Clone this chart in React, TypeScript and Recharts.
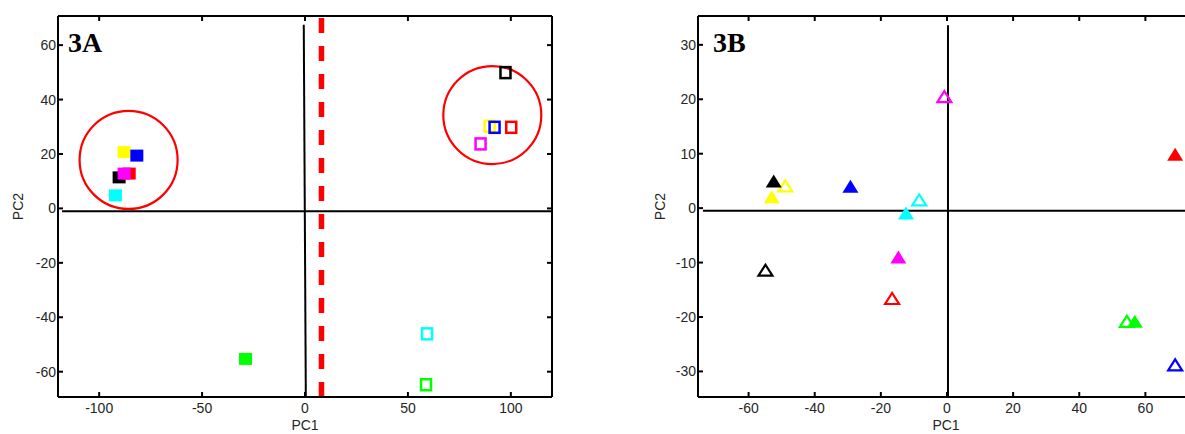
import React from 'react';
import { ScatterChart, Scatter, XAxis, YAxis, ReferenceLine } from 'recharts';

const palette: { [key: string]: string } = {
  black: '#000000',
  red: '#ff0000',
  magenta: '#ff00ff',
  yellow: '#ffff00',
  blue: '#0000ff',
  cyan: '#00ffff',
  green: '#00ff00',
};

// panel 3A – filled squares
const aFilledColors = ['black', 'red', 'magenta', 'yellow', 'blue', 'cyan', 'green'];
const aFilledX = [-90.3, -85.4, -87.9, -87.9, -81.7, -92.1, -28.9];
const aFilledY = [11.4, 12.8, 12.8, 20.7, 19.4, 4.8, -55.3];

// panel 3A – open squares
const aOpenColors = ['black', 'yellow', 'blue', 'red', 'magenta', 'cyan', 'green'];
const aOpenX = [97.4, 89.7, 92.1, 100.2, 85.3, 59.3, 58.8];
const aOpenY = [49.9, 30.2, 29.8, 29.8, 23.7, -46.1, -64.8];

// panel 3A – cluster circles and cut line
const aCircleX = [-85.7, 91.0];
const aCircleY = [17.8, 34.3];
const aCutX = 8;

// panel 3B – filled triangles
const bFilledColors = ['black', 'yellow', 'blue', 'cyan', 'magenta', 'red', 'green'];
const bFilledX = [-52.4, -53.0, -29.2, -12.4, -14.7, 69.0, 56.8];
const bFilledY = [5.0, 2.1, 4.0, -0.9, -9.0, 9.9, -20.8];

// panel 3B – open triangles
const bOpenColors = ['yellow', 'cyan', 'red', 'black', 'magenta', 'green', 'blue'];
const bOpenX = [-48.9, -8.4, -16.6, -54.9, -0.8, 54.4, 69.0];
const bOpenY = [4.1, 1.5, -16.6, -11.4, 20.5, -20.8, -28.8];

// axes
const aXTicks = [-100, -50, 0, 50, 100];
const aYTicks = [-60, -40, -20, 0, 20, 40, 60];
const bXTicks = [-60, -40, -20, 0, 20, 40, 60];
const bYTicks = [-30, -20, -10, 0, 10, 20, 30];
const aXDomain: [number, number] = [-120, 120];
const aYDomain: [number, number] = [-69.3, 70.7];
const bXDomain: [number, number] = [-75.3, 74.7];
const bYDomain: [number, number] = [-34.7, 35.3];

const toPoints = (xs: number[], ys: number[], colors?: string[]) =>
  xs.map((x, i) => ({ x, y: ys[i], color: colors ? palette[colors[i]] : '#ff0000' }));

const FilledSquare = (p: any) => (
  <rect x={p.cx - 6.5} y={p.cy - 6} width={13} height={12} fill={p.payload.color} />
);
const OpenSquare = (p: any) => (
  <rect x={p.cx - 5} y={p.cy - 5.5} width={10} height={11} fill="none" stroke={p.payload.color} strokeWidth={2.5} />
);
const FilledTriangle = (p: any) => (
  <polygon
    points={`${p.cx - 8},${p.cy + 6.5} ${p.cx + 8},${p.cy + 6.5} ${p.cx},${p.cy - 6.5}`}
    fill={p.payload.color}
  />
);
const OpenTriangle = (p: any) => (
  <polygon
    points={`${p.cx - 7},${p.cy + 5.5} ${p.cx + 7},${p.cy + 5.5} ${p.cx},${p.cy - 5.5}`}
    fill="none"
    stroke={p.payload.color}
    strokeWidth={2.2}
  />
);
const RingShape = (p: any) => (
  <circle cx={p.cx} cy={p.cy} r={49} fill="none" stroke="#ff0000" strokeWidth={2.2} />
);

const font = 'Liberation Sans, Arial, Helvetica, sans-serif';
const textColor = '#262626';
const axisLine = { stroke: '#000', strokeWidth: 2 };

// plot box inside each 600x434 chart
const plotTop = 16;
const plotBottom = 397;
const plotLeft = 58;

// inward tick marks (MATLAB style) with labels outside the box
const BottomTick = (p: any) => (
  <g>
    <line x1={p.x} x2={p.x} y1={plotBottom} y2={plotBottom - 5} stroke="#000" strokeWidth={2} />
    <text x={p.x} y={plotBottom + 16} textAnchor="middle" fill={textColor} fontSize={14} fontFamily={font}>
      {p.payload.value}
    </text>
  </g>
);
const TopTick = (p: any) => (
  <line x1={p.x} x2={p.x} y1={plotTop} y2={plotTop + 5} stroke="#000" strokeWidth={2} />
);
const LeftTick = (p: any) => (
  <g>
    <line x1={plotLeft} x2={plotLeft + 5} y1={p.y} y2={p.y} stroke="#000" strokeWidth={2} />
    <text x={plotLeft - 2} y={p.y + 5} textAnchor="end" fill={textColor} fontSize={14} fontFamily={font}>
      {p.payload.value}
    </text>
  </g>
);
const rightTick = (plotRight: number) => (p: any) => (
  <line x1={plotRight} x2={plotRight - 5} y1={p.y} y2={p.y} stroke="#000" strokeWidth={2} />
);

const Frame = (
  xDomain: [number, number],
  yDomain: [number, number],
  xTicks: number[],
  yTicks: number[],
  plotRight: number,
  pc2Offset: number
) => [
  <XAxis
    key="xb"
    xAxisId="b"
    type="number"
    dataKey="x"
    domain={xDomain}
    ticks={xTicks}
    allowDataOverflow
    orientation="bottom"
    height={37}
    axisLine={axisLine}
    tickLine={false}
    tick={BottomTick}
    label={{ value: 'PC1', position: 'insideBottom', offset: 4, style: { fill: textColor, fontSize: 14, fontFamily: font } }}
  />,
  <XAxis
    key="xt"
    xAxisId="t"
    type="number"
    dataKey="x"
    domain={xDomain}
    ticks={xTicks}
    allowDataOverflow
    orientation="top"
    height={1}
    axisLine={axisLine}
    tickLine={false}
    tick={TopTick}
  />,
  <YAxis
    key="yl"
    yAxisId="l"
    type="number"
    dataKey="y"
    domain={yDomain}
    ticks={yTicks}
    allowDataOverflow
    orientation="left"
    width={58}
    axisLine={axisLine}
    tickLine={false}
    tick={LeftTick}
    label={{
      value: 'PC2',
      angle: -90,
      position: 'insideLeft',
      offset: pc2Offset,
      style: { textAnchor: 'middle', fill: textColor, fontSize: 14, fontFamily: font },
    }}
  />,
  <YAxis
    key="yr"
    yAxisId="r"
    type="number"
    dataKey="y"
    domain={yDomain}
    ticks={yTicks}
    allowDataOverflow
    orientation="right"
    width={1}
    axisLine={axisLine}
    tickLine={false}
    tick={rightTick(plotRight)}
  />,
];

const PanelLabel = ({ text, left }: { text: string; left: number }) => (
  <svg style={{ position: 'absolute', left, top: 20, overflow: 'visible' }} width={50} height={40}>
    <text x={0} y={32} fontSize={28} fontWeight="bold" fontFamily="Liberation Serif, Times New Roman, serif" fill="#000">
      {text}
    </text>
  </svg>
);

export default function App() {
  const aFilled = toPoints(aFilledX, aFilledY, aFilledColors);
  const aOpen = toPoints(aOpenX, aOpenY, aOpenColors);
  const aRings = toPoints(aCircleX, aCircleY);
  const bFilled = toPoints(bFilledX, bFilledY, bFilledColors);
  const bOpen = toPoints(bOpenX, bOpenY, bOpenColors);

  return (
    <div style={{ position: 'fixed', left: 0, top: 0, width: 1185, height: 434, overflow: 'hidden', background: '#fff' }}>
      <div style={{ position: 'absolute', left: 0, top: 0 }}>
        <ScatterChart width={600} height={434} margin={{ top: 15, right: 47, bottom: 0, left: 0 }}>
          {Frame(aXDomain, aYDomain, aXTicks, aYTicks, 552, 18)}
          <ReferenceLine
            xAxisId="b"
            yAxisId="l"
            segment={[{ x: -118, y: -1 }, { x: 120, y: -1 }]}
            stroke="#000"
            strokeWidth={2}
          />
          <ReferenceLine
            xAxisId="b"
            yAxisId="l"
            segment={[{ x: -0.6, y: 67.5 }, { x: 0.4, y: -69.3 }]}
            stroke="#000"
            strokeWidth={2}
          />
          <ReferenceLine
            xAxisId="b"
            yAxisId="l"
            segment={[{ x: aCutX, y: 70 }, { x: aCutX, y: -69.3 }]}
            stroke="#ff0000"
            strokeWidth={5.5}
            strokeDasharray="15 13"
          />
          <Scatter xAxisId="t" yAxisId="r" data={aRings} shape={RingShape} isAnimationActive={false} />
          <Scatter xAxisId="b" yAxisId="l" data={aFilled} shape={FilledSquare} isAnimationActive={false} />
          <Scatter xAxisId="b" yAxisId="l" data={aOpen} shape={OpenSquare} isAnimationActive={false} />
        </ScatterChart>
        <PanelLabel text="3A" left={68} />
      </div>
      <div style={{ position: 'absolute', left: 640, top: 0, width: 600, height: 434 }}>
        <ScatterChart width={600} height={434} margin={{ top: 15, right: 45, bottom: 0, left: 0 }}>
          {Frame(bXDomain, bYDomain, bXTicks, bYTicks, 554, 20)}
          <ReferenceLine
            xAxisId="b"
            yAxisId="l"
            segment={[{ x: -73.8, y: -0.5 }, { x: 74.7, y: -0.5 }]}
            stroke="#000"
            strokeWidth={2}
          />
          <ReferenceLine
            xAxisId="b"
            yAxisId="l"
            segment={[{ x: 0.3, y: 33.6 }, { x: 0.3, y: -34.7 }]}
            stroke="#000"
            strokeWidth={2}
          />
          <Scatter xAxisId="t" yAxisId="r" data={bOpen} shape={OpenTriangle} isAnimationActive={false} />
          <Scatter xAxisId="b" yAxisId="l" data={bFilled} shape={FilledTriangle} isAnimationActive={false} />
        </ScatterChart>
        <PanelLabel text="3B" left={713 - 640} />
      </div>
    </div>
  );
}
